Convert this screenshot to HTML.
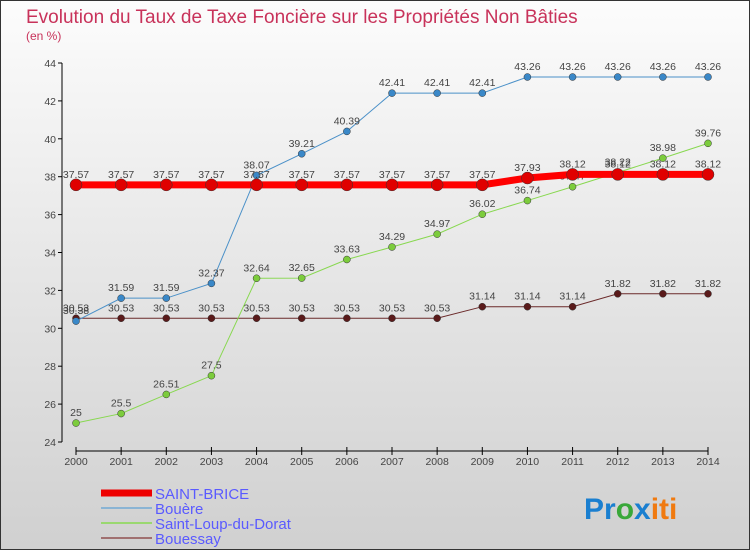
<!DOCTYPE html>
<html><head><meta charset="utf-8"><style>
body{margin:0;}
#wrap{width:750px;height:550px;position:relative;box-sizing:border-box;border:1px solid #333;background:linear-gradient(#fcfcfc,#d0d0d0);font-family:"Liberation Sans",sans-serif;overflow:hidden}
</style></head><body>
<div id="wrap">
<svg id="chart" width="750" height="550" style="position:absolute;left:0;top:0">
<text x="25" y="22" font-size="19" fill="#c8325a" font-weight="normal">Evolution du Taux de Taxe Foncière sur les Propriétés Non Bâties</text>
<text x="25" y="39" font-size="12" fill="#c8325a">(en %)</text>
<g id="axes"></g><g id="series"></g>
<text x="583" y="518" font-size="30" font-weight="bold"><tspan fill="#1a7fd0">Pr</tspan><tspan fill="#3aa83a">o</tspan><tspan fill="#1a7fd0">x</tspan><tspan fill="#f07a10">iti</tspan></text>
</svg>
</div>
<script>
const years=[2000,2001,2002,2003,2004,2005,2006,2007,2008,2009,2010,2011,2012,2013,2014];
const saintBrice=[37.57,37.57,37.57,37.57,37.57,37.57,37.57,37.57,37.57,37.57,37.93,38.12,38.12,38.12,38.12];
const bouere=[30.38,31.59,31.59,32.37,38.07,39.21,40.39,42.41,42.41,42.41,43.26,43.26,43.26,43.26,43.26];
const saintLoup=[25,25.5,26.51,27.5,32.64,32.65,33.63,34.29,34.97,36.02,36.74,37.47,38.22,38.98,39.76];
const bouessay=[30.53,30.53,30.53,30.53,30.53,30.53,30.53,30.53,30.53,31.14,31.14,31.14,31.82,31.82,31.82];
const yTicks=[24,26,28,30,32,34,36,38,40,42,44];
const NS='http://www.w3.org/2000/svg';
const X=i=>75+i*(707-75)/(years.length-1);
const Y=v=>441-(v-24)*(441-62)/20;
function mk(t,a,p){const e=document.createElementNS(NS,t);for(const k in a)e.setAttribute(k,a[k]);p.appendChild(e);return e;}
const ax=document.getElementById('axes'),sg=document.getElementById('series');
let l=mk('line',{x1:61,y1:62,x2:61,y2:441,stroke:'#000'},ax);


yTicks.forEach(v=>{mk('line',{x1:57,x2:61,y1:Y(v),y2:Y(v),stroke:'#000'},ax);
const t=mk('text',{x:55,y:Y(v)+4,'font-size':10.5,'text-anchor':'end',fill:'#444'},ax);t.textContent=v;

});
l=mk('line',{x1:75,y1:450,x2:707,y2:450,stroke:'#000'},ax);


years.forEach((y,i)=>{mk('line',{x1:X(i),x2:X(i),y1:446,y2:454,stroke:'#000'},ax);
const t=mk('text',{x:X(i),y:464,'font-size':10.5,'text-anchor':'middle',fill:'#444'},ax);t.textContent=y;

});
const series=[
{name:'bouessay',d:bouessay,c:'#6b2a2a',w:1,r:3.5,f:'#5a1a1a'},
{name:'saint-loup',d:saintLoup,c:'#88d850',w:1,r:3.5,f:'#7ccc3c'},
{name:'bouere',d:bouere,c:'#4a90c8',w:1,r:3.5,f:'#3a88c8'},
{name:'saint-brice',d:saintBrice,c:'#ff0000',w:7,r:6,f:'#e00000'}];
series.forEach(s=>{const g=mk('g',{},sg);


const p=mk('polyline',{points:s.d.map((v,i)=>X(i)+','+Y(v)).join(' '),fill:'none',stroke:s.c,'stroke-width':s.w},g);


s.d.forEach((v,i)=>{const c=mk('circle',{cx:X(i),cy:Y(v),r:s.r,fill:s.f,stroke:'#333','stroke-width':0.5},g);


const t=mk('text',{x:X(i),y:Y(v)-7,'font-size':10.5,'text-anchor':'middle',fill:'#444'},g);t.textContent=v;

});});
const leg=[['SAINT-BRICE','#ee0000',7],['Bouère','#8ab4d4',2],['Saint-Loup-du-Dorat','#9ad870',2],['Bouessay','#a07070',2]];
leg.forEach((e,i)=>{const y=492+i*15;const g=mk('g',{},sg);


mk('line',{x1:100,x2:151,y1:y,y2:y,stroke:e[1],'stroke-width':e[2]},g);
const t=mk('text',{x:154,y:y+6,'font-size':15,fill:'#5a5aff'},g);t.textContent=e[0];});
</script>
</body></html>
